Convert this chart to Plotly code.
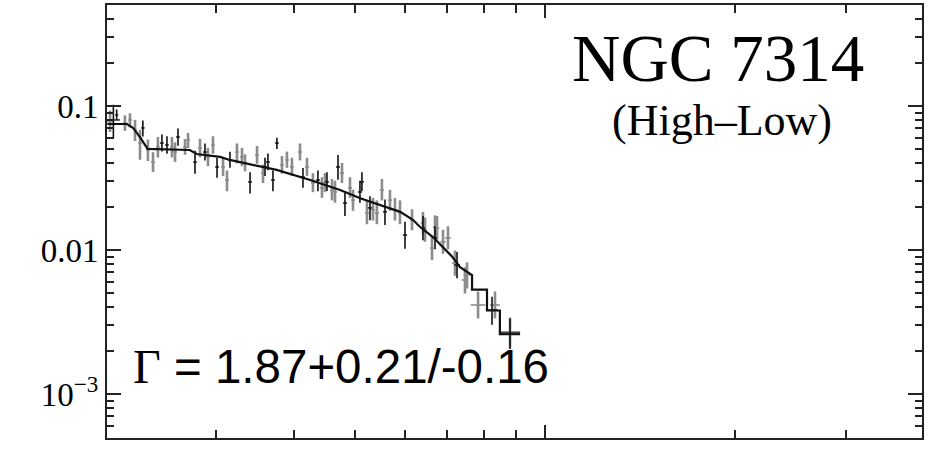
import plotly.graph_objects as go

# ---------------- data ----------------
gray_E = [2.04, 2.154, 2.194, 2.235, 2.276, 2.343, 2.387, 2.43, 2.558, 2.587, 2.683, 2.713,
          2.834, 2.918, 2.972, 3.083, 3.128, 3.244, 3.304, 3.341, 3.491, 3.568, 3.824,
          3.894, 3.966, 4.084, 4.19, 4.282, 4.475, 4.426, 4.591, 4.642, 4.762, 4.903,
          4.957, 5.217, 5.333, 5.41, 5.51, 5.675, 5.779, 5.886, 6.151, 6.402, 6.69,
          6.45, 6.74, 6.617, 6.889, 7.015, 7.197, 7.464, 7.52, 7.83, 8.33, 8.80]
gray_y = [0.078, 0.0762, 0.0799, 0.0681, 0.0553, 0.0495, 0.0408, 0.0519, 0.0519, 0.0479, 0.0519, 0.0581,
          0.0511, 0.0442, 0.0536, 0.0377, 0.0306, 0.0479, 0.0442, 0.0402, 0.0457, 0.0342, 0.0389,
          0.0422, 0.0377, 0.0479, 0.0377, 0.0292, 0.0292, 0.0270, 0.0261, 0.0253, 0.0342, 0.0270,
          0.0222, 0.0181, 0.0190, 0.0181, 0.0261, 0.0222, 0.0190, 0.0181, 0.0162, 0.0154, 0.0144,
          0.0138, 0.0142, 0.0103, 0.0114, 0.0121, 0.00812, 0.00619, 0.00671, 0.00415, 0.00415, 0.00270]
gray_up = [0.015, 0.010, 0.009, 0.012, 0.013, 0.009, 0.007, 0.009, 0.009, 0.008, 0.007, 0.007,
           0.008, 0.007, 0.008, 0.006, 0.005, 0.007, 0.007, 0.006, 0.007, 0.005, 0.006,
           0.006, 0.006, 0.007, 0.006, 0.005, 0.005, 0.005, 0.005, 0.005, 0.006, 0.005,
           0.004, 0.004, 0.004, 0.004, 0.005, 0.004, 0.004, 0.004, 0.003, 0.003, 0.003,
           0.003, 0.003, 0.0022, 0.0024, 0.0025, 0.0018, 0.0014, 0.0015, 0.0010, 0.0010, 0.0007]
gray_dn = [0.012, 0.009, 0.009, 0.011, 0.013, 0.008, 0.006, 0.008, 0.008, 0.007, 0.006, 0.007,
           0.007, 0.006, 0.007, 0.005, 0.005, 0.008, 0.006, 0.005, 0.006, 0.005, 0.005,
           0.005, 0.005, 0.006, 0.005, 0.004, 0.004, 0.004, 0.004, 0.004, 0.005, 0.004,
           0.0035, 0.003, 0.003, 0.003, 0.004, 0.0035, 0.003, 0.003, 0.0025, 0.0025, 0.0024,
           0.0024, 0.0024, 0.0018, 0.002, 0.002, 0.0015, 0.0012, 0.0013, 0.0008, 0.0008, 0.0006]
gray_dx = [0.025, 0.015, 0.015, 0.015, 0.016, 0.016, 0.017, 0.017, 0.018, 0.018, 0.019, 0.019,
           0.02, 0.02, 0.021, 0.022, 0.022, 0.023, 0.024, 0.024, 0.025, 0.026, 0.028,
           0.028, 0.029, 0.03, 0.031, 0.032, 0.033, 0.033, 0.034, 0.035, 0.036, 0.037,
           0.037, 0.04, 0.04, 0.041, 0.042, 0.043, 0.044, 0.045, 0.047, 0.05, 0.052,
           0.05, 0.053, 0.05, 0.07, 0.07, 0.08, 0.09, 0.09, 0.21, 0.15, 0.33]

black_E = [2.065, 2.09, 2.30, 2.466, 2.512, 2.615, 2.783, 2.886, 3.016, 3.162, 3.403, 3.594,
           3.633, 3.70, 3.754, 4.129, 4.361, 4.508, 4.693, 4.814, 5.085, 5.122, 5.275,
           5.572, 5.995, 6.402, 6.69, 7.25, 8.24, 8.80]
black_y = [0.080, 0.0866, 0.0704, 0.0553, 0.0536, 0.0609, 0.0408, 0.0479, 0.0377, 0.0422, 0.0297, 0.0377,
           0.0408, 0.0306, 0.0553, 0.0321, 0.0306, 0.0297, 0.0377, 0.0212, 0.0253, 0.0297, 0.0196,
           0.0184, 0.0127, 0.0142, 0.0121, 0.00787, 0.00383, 0.00265]
black_up = [0.022, 0.008, 0.009, 0.008, 0.008, 0.009, 0.008, 0.007, 0.006, 0.006, 0.005, 0.006,
            0.006, 0.005, 0.005, 0.005, 0.005, 0.005, 0.008, 0.004, 0.005, 0.005, 0.004,
            0.004, 0.003, 0.003, 0.0025, 0.0018, 0.0009, 0.0007]
black_dn = [0.020, 0.006, 0.009, 0.007, 0.007, 0.008, 0.007, 0.006, 0.006, 0.005, 0.005, 0.005,
            0.005, 0.005, 0.005, 0.005, 0.005, 0.004, 0.007, 0.004, 0.004, 0.004, 0.0035,
            0.0035, 0.0025, 0.0025, 0.002, 0.0015, 0.0008, 0.0006]
black_dx = [0.05, 0.012, 0.015, 0.017, 0.017, 0.018, 0.019, 0.02, 0.021, 0.022, 0.024, 0.025,
            0.026, 0.026, 0.027, 0.03, 0.032, 0.033, 0.035, 0.036, 0.038, 0.038, 0.04,
            0.042, 0.047, 0.05, 0.052, 0.08, 0.18, 0.33]

# best-fit model (vertices of the folded model curve)
model_E = [2.02, 2.17, 2.22, 2.28, 2.34, 2.73, 2.80, 3.05, 3.16, 3.75, 4.24, 4.73, 5.09,
           5.47, 5.89, 6.17, 6.33, 6.64, 6.94, 7.12, 7.33, 7.66, 7.66, 8.09, 8.09, 8.48,
           8.48, 9.13]
model_y = [0.0750, 0.0750, 0.0704, 0.0600, 0.0503, 0.0495, 0.0464, 0.0443, 0.0422, 0.0360,
           0.0306, 0.0261, 0.0229, 0.0205, 0.0184, 0.0162, 0.0145, 0.0123, 0.0100, 0.0090,
           0.0076, 0.0067, 0.0053, 0.0053, 0.0038, 0.0038, 0.0026, 0.0026]

y_major = [0.1, 0.01, 0.001]
y_major_text = ["0.1", "0.01", "10<sup>\u22123</sup>"]
y_minor = [0.0006, 0.0007, 0.0008, 0.0009,
           0.002, 0.003, 0.004, 0.005, 0.006, 0.007, 0.008, 0.009,
           0.02, 0.03, 0.04, 0.05, 0.06, 0.07, 0.08, 0.09,
           0.2, 0.3, 0.4]
x_major = [10]
x_minor = [3, 4, 5, 6, 7, 8, 9, 20, 30]

title_main = "NGC 7314"
title_sub = "(High\u2013Low)"
gamma_sym = "\u0393"
gamma_val = "= 1.87+0.21/-0.16"

fig = go.Figure()

fig.add_trace(go.Scatter(
    x=gray_E, y=gray_y, mode="markers",
    marker=dict(size=1, color="#8c8c8c"),
    error_y=dict(type="data", symmetric=False, array=gray_up, arrayminus=gray_dn,
                 color="#8c8c8c", thickness=2.6, width=0),
    error_x=dict(type="data", array=gray_dx, color="#8c8c8c", thickness=1.6, width=0),
    showlegend=False, hoverinfo="skip"))

fig.add_trace(go.Scatter(
    x=black_E, y=black_y, mode="markers",
    marker=dict(size=1, color="#111111"),
    error_y=dict(type="data", symmetric=False, array=black_up, arrayminus=black_dn,
                 color="#111111", thickness=1.6, width=0),
    error_x=dict(type="data", array=black_dx, color="#111111", thickness=1.4, width=0),
    showlegend=False, hoverinfo="skip"))

fig.add_trace(go.Scatter(
    x=model_E, y=model_y, mode="lines",
    line=dict(color="#111111", width=2.2),
    showlegend=False, hoverinfo="skip"))

axis_common = dict(showline=True, linecolor="#222222", linewidth=2, mirror="allticks",
                   showgrid=False, zeroline=False, ticks="inside", tickcolor="#222222",
                   automargin=False)

fig.update_xaxes(type="log", range=[0.3048, 1.5984], tickmode="array", tickvals=x_major,
                 ticklen=13, tickwidth=1.5, showticklabels=False,
                 minor=dict(tickmode="array", tickvals=x_minor, ticks="inside", ticklen=8,
                            tickwidth=1.5, tickcolor="#222222"),
                 **axis_common)

fig.update_yaxes(type="log", range=[-3.3056, -0.2986], tickmode="array", tickvals=y_major,
                 ticktext=y_major_text, ticklen=14, tickwidth=1.6,
                 tickfont=dict(family="Liberation Serif", size=33, color="#000000"),
                 minor=dict(tickmode="array", tickvals=y_minor, ticks="inside", ticklen=7,
                            tickwidth=1.6, tickcolor="#222222"),
                 **axis_common)

def px_x(p):
    return (p - 107) / 815.0

def px_y(p):
    return (438 - p) / 433.0

fig.add_annotation(text=title_main, xref="paper", yref="paper", x=px_x(718), y=px_y(58),
                   xanchor="center", yanchor="middle", showarrow=False,
                   font=dict(family="Liberation Serif", size=67, color="#000000"))
fig.add_annotation(text=title_sub, xref="paper", yref="paper", x=px_x(722), y=px_y(120),
                   xanchor="center", yanchor="middle", showarrow=False,
                   font=dict(family="Liberation Serif", size=44, color="#000000"))
fig.add_annotation(text=gamma_sym, xref="paper", yref="paper", x=px_x(131), y=px_y(366),
                   xanchor="left", yanchor="middle", showarrow=False,
                   font=dict(family="Liberation Serif", size=48, color="#000000"))
fig.add_annotation(text=gamma_val, xref="paper", yref="paper", x=px_x(172), y=px_y(366),
                   xanchor="left", yanchor="middle", showarrow=False,
                   font=dict(family="Liberation Sans", size=47.5, color="#000000"))

fig.update_layout(width=927, height=450, margin=dict(l=107, r=5, t=5, b=12),
                  paper_bgcolor="white", plot_bgcolor="white", template="none")

fig.write_html("out.html", config={"displayModeBar": False},
               post_script="document.body.style.margin='0';document.body.style.overflow='hidden';")
